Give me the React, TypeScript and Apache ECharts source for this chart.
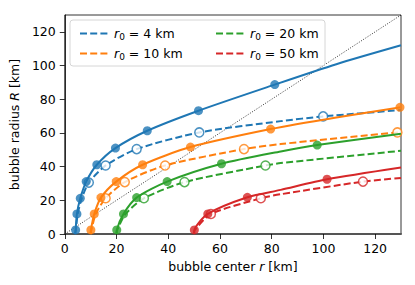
import React, { useEffect, useRef } from "react";
import * as echarts from "echarts";

const FONT = "DejaVu Sans";
const COLORS = ["#1f77b4", "#ff7f0e", "#2ca02c", "#d62728"];
const R0_VALUES = [4, 10, 20, 50];
const LEGEND_NAMES = ["r0 = 4 km", "r0 = 10 km", "r0 = 20 km", "r0 = 50 km"];
const AXIS_TICKS = [0, 20, 40, 60, 80, 100, 120];

// r0 = 4 km
const solid4 = [[4, 0], [4.2, 2.4], [4.7, 11.9], [6, 21.2], [8.3, 31.1], [12.4, 41.1], [19.6, 51], [31.9, 61.3], [51.7, 73.2], [81.2, 88.7], [105, 100.8], [130, 112]];
const filled4 = [[4.2, 2.4], [4.7, 11.9], [6, 21.2], [8.3, 31.1], [12.4, 41.1], [19.6, 51], [31.9, 61.3], [51.7, 73.2], [81.2, 88.7]];
const dashed4 = [[4, 0], [4.3, 2.4], [5, 11.9], [6.6, 21.2], [9.3, 30.5], [15.8, 40.7], [27.8, 50.4], [52, 60.3], [83.5, 67], [99.9, 69.8], [130, 73.6]];
const open4 = [[9.3, 30.5], [15.8, 40.7], [27.8, 50.4], [52, 60.3], [99.9, 69.8]];

// r0 = 10 km
const solid10 = [[10, 0], [10.1, 2.4], [11.4, 11.9], [14, 21.6], [19.9, 31.1], [30.1, 41.1], [48.6, 51.6], [79.6, 62.3], [105, 69.2], [130, 75.2]];
const filled10 = [[10.1, 2.4], [11.4, 11.9], [14, 21.6], [19.9, 31.1], [30.1, 41.1], [48.6, 51.6], [79.6, 62.3], [129.6, 75.2]];
const dashed10 = [[10, 0], [10.3, 2.4], [12, 11.9], [15.8, 21.2], [23.2, 30.8], [38.8, 40.7], [69.3, 50.4], [83.5, 53.4], [128.6, 60.3], [130, 60.5]];
const open10 = [[15.8, 21.2], [23.2, 30.8], [38.8, 40.7], [69.3, 50.4], [128.6, 60.3]];

// r0 = 20 km
const solid20 = [[20, 0], [20.1, 2.4], [22.7, 11.9], [27.8, 21.6], [39.6, 31.1], [60.6, 41.7], [83.5, 49], [97.6, 52.8], [130, 59.5]];
const filled20 = [[20.1, 2.4], [22.7, 11.9], [27.8, 21.6], [39.6, 31.1], [60.6, 41.7], [97.6, 52.8]];
const dashed20 = [[20, 0], [20.3, 2.4], [23.5, 11.9], [30.6, 21.2], [46.3, 30.8], [77.6, 40.7], [83.5, 42.1], [130, 49.4]];
const open20 = [[30.6, 21.2], [46.3, 30.8], [77.6, 40.7]];

// r0 = 50 km
const solid50 = [[50, 0], [50.1, 2.4], [55.3, 11.9], [70.6, 21.8], [83.5, 26.2], [101.4, 32.5], [130, 39.5]];
const filled50 = [[50.1, 2.4], [55.3, 11.9], [70.6, 21.8], [101.4, 32.5]];
const dashed50 = [[50, 0], [50.3, 2.4], [56.5, 11.9], [75.8, 21.2], [83.5, 23.6], [115.3, 31.1], [130, 33.3]];
const open50 = [[56.5, 11.9], [75.8, 21.2], [115.3, 31.1]];

const diagonal = [[0, 0], [130, 130]];

const GROUPS = [
  { solid: solid4, filled: filled4, dashed: dashed4, open: open4 },
  { solid: solid10, filled: filled10, dashed: dashed10, open: open10 },
  { solid: solid20, filled: filled20, dashed: dashed20, open: open20 },
  { solid: solid50, filled: filled50, dashed: dashed50, open: open50 },
];

const legendFormatter = (name: string) => {
  const i = LEGEND_NAMES.indexOf(name);
  return `{i|r}{s|0}{n| = ${R0_VALUES[i]} km}`;
};

const legendRich = {
  i: { fontFamily: FONT, fontSize: 12.5, fontStyle: "italic", color: "#000" },
  s: { fontFamily: FONT, fontSize: 9, color: "#000", padding: [6, 0, 0, 0] },
  n: { fontFamily: FONT, fontSize: 12.5, color: "#000" },
};

export default function App() {
  const ref = useRef<HTMLDivElement>(null);
  useEffect(() => {
    if (!ref.current) return;
    const chart = echarts.init(ref.current, null, { renderer: "svg" });
    const series: any[] = [
      {
        type: "line",
        name: "_diag",
        data: diagonal,
        symbol: "none",
        lineStyle: { color: "#000", width: 0.8, type: [1, 1.6] },
        z: 1,
        silent: true,
      },
    ];
    GROUPS.forEach((g, k) => {
      const c = COLORS[k];
      series.push({
        type: "line",
        name: LEGEND_NAMES[k],
        data: g.dashed,
        symbol: "none",
        showSymbol: false,
        smooth: 0.25,
        lineStyle: { color: c, width: 2, type: [7, 3.2] },
        itemStyle: { color: c },
        z: 2,
      });
      series.push({
        type: "scatter",
        name: "_open" + k,
        data: g.open,
        symbol: "circle",
        symbolSize: 9,
        itemStyle: { color: "#fff", borderColor: c, borderWidth: 1.5 },
        z: 3,
      });
      series.push({
        type: "line",
        name: "_solid" + k,
        data: g.solid,
        symbol: "none",
        showSymbol: false,
        smooth: 0.25,
        lineStyle: { color: c, width: 2, type: "solid" },
        itemStyle: { color: c },
        z: 4,
      });
      series.push({
        type: "scatter",
        name: "_filled" + k,
        data: g.filled,
        symbol: "circle",
        symbolSize: 9,
        itemStyle: { color: c },
        z: 5,
      });
    });

    const axisCommon = {
      min: 0,
      max: 130,
      interval: 20,
      splitLine: { show: false },
      axisTick: { show: true, inside: false, length: 5, lineStyle: { color: "#000", width: 0.8 } },
      axisLabel: {
        fontFamily: FONT,
        fontSize: 12.5,
        color: "#000",
        showMaxLabel: false,
        formatter: (v: number) => (AXIS_TICKS.includes(v) ? String(v) : ""),
      },
    };

    const legendCommon = {
      orient: "vertical",
      top: 22,
      itemWidth: 29,
      itemHeight: 12,
      itemGap: 6,
      z: 60,
      formatter: legendFormatter,
      textStyle: { fontFamily: FONT, fontSize: 12.5, color: "#000", rich: legendRich },
      itemStyle: { opacity: 0, borderWidth: 0 },
      selectedMode: false,
    };

    chart.setOption({
      animation: false,
      grid: {
        left: 63,
        right: 14,
        top: 15,
        bottom: 51,
        show: true,
        borderColor: "#000",
        borderWidth: 0.8,
        backgroundColor: "transparent",
      },
      xAxis: {
        type: "value",
        ...axisCommon,
        axisLabel: { ...axisCommon.axisLabel, margin: 8 },
        axisLine: { show: true, onZero: false, lineStyle: { color: "#555", width: 2 } },
        name: "bubble center {i|r} [km]",
        nameLocation: "middle",
        nameGap: 26,
        nameTextStyle: {
          fontFamily: FONT,
          fontSize: 12.5,
          color: "#000",
          rich: { i: { fontFamily: FONT, fontSize: 12.5, fontStyle: "italic", color: "#000" } },
        },
      },
      yAxis: {
        type: "value",
        ...axisCommon,
        axisLabel: { ...axisCommon.axisLabel, margin: 9 },
        axisLine: { show: true, onZero: false, lineStyle: { color: "#000", width: 0.8 } },
        name: "bubble radius {i|R} [km]",
        nameLocation: "middle",
        nameGap: 40,
        nameRotate: 90,
        nameTextStyle: {
          fontFamily: FONT,
          fontSize: 12.5,
          color: "#000",
          rich: { i: { fontFamily: FONT, fontSize: 12.5, fontStyle: "italic", color: "#000" } },
        },
      },
      graphic: [
        {
          type: "rect",
          z: 50,
          shape: { x: 70, y: 20, width: 255, height: 46, r: 3 },
          style: { fill: "rgba(255,255,255,0.8)", stroke: "#cccccc", lineWidth: 0.8 },
          silent: true,
        },
      ],
      legend: [
        { ...legendCommon, left: 74, data: [LEGEND_NAMES[0], LEGEND_NAMES[1]] },
        { ...legendCommon, left: 210, data: [LEGEND_NAMES[2], LEGEND_NAMES[3]] },
      ],
      series,
    });
    return () => chart.dispose();
  }, []);
  return <div ref={ref} style={{ width: 415, height: 285, margin: -8 }} />;
}
